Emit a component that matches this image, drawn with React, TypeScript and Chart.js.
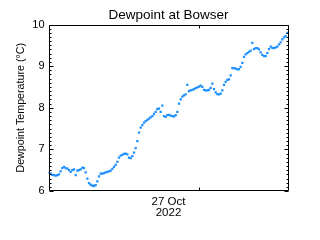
import React, { useEffect, useRef } from "react";
import { Chart, registerables } from "chart.js";

Chart.register(...registerables);

// Time axis: hours relative to 27 Oct 2022 00:00; one reading every 10 minutes from 26 Oct 09:00
const startHour = -15;
const stepHours = 1 / 6;
const xMin = -15.05;
const xMax = 8.95;
const dateTick = 0; // 27 Oct 00:00
const xTitleLines = ["27 Oct", "2022"];

const dewpoint: number[] = [
  6.45, 6.42, 6.39, 6.38, 6.37, 6.38, 6.40, 6.47, 6.55, 6.58,
  6.55, 6.54, 6.50, 6.46, 6.50, 6.52, 6.38, 6.49, 6.50, 6.52,
  6.56, 6.55, 6.45, 6.30, 6.19, 6.15, 6.13, 6.12, 6.14, 6.23,
  6.35, 6.42, 6.42, 6.43, 6.45, 6.46, 6.47, 6.49, 6.53, 6.58,
  6.63, 6.70, 6.80, 6.85, 6.87, 6.89, 6.90, 6.88, 6.80, 6.79,
  6.84, 6.92, 7.03, 7.20, 7.40, 7.52, 7.58, 7.64, 7.68, 7.71,
  7.74, 7.77, 7.80, 7.85, 7.90, 7.97, 7.98, 7.90, 8.05, 7.80,
  7.78, 7.82, 7.83, 7.81, 7.80, 7.79, 7.82, 7.90, 8.10, 8.20,
  8.27, 8.30, 8.32, 8.55, 8.40, 8.42, 8.43, 8.45, 8.47, 8.49,
  8.51, 8.53, 8.50, 8.43, 8.42, 8.42, 8.43, 8.48, 8.58, 8.45,
  8.37, 8.33, 8.32, 8.34, 8.42, 8.55, 8.62, 8.67, 8.68, 8.78,
  8.95, 8.95, 8.94, 8.92, 8.93, 8.98, 9.08, 9.22, 9.28, 9.31,
  9.34, 9.37, 9.56, 9.41, 9.43, 9.43, 9.40, 9.33, 9.27, 9.24,
  9.24, 9.31, 9.41, 9.47, 9.44, 9.43, 9.45, 9.47, 9.52, 9.57,
  9.64, 9.69, 9.72, 9.80,
];

const yMin = 6;
const yMax = 10;
const yMajorStep = 1;
const yMinorStep = 0.1;

const FONT = "'Liberation Sans', Arial, sans-serif";

const frameTicks = {
  id: "frameTicks",
  afterDraw(chart: any) {
    const ctx = chart.ctx;
    const xs = chart.scales.x;
    const ys = chart.scales.y;
    const L = Math.round(xs.getPixelForValue(xMin)) + 0.5;
    const R = Math.round(xs.getPixelForValue(xMax)) - 0.5;
    const T = Math.round(ys.getPixelForValue(yMax)) + 0.5;
    const B = Math.round(ys.getPixelForValue(yMin)) - 0.5;
    ctx.save();
    ctx.strokeStyle = "#000000";
    ctx.lineWidth = 1;
    ctx.beginPath();
    ctx.moveTo(L, T);
    ctx.lineTo(R, T);
    ctx.lineTo(R, B);
    ctx.lineTo(L, B);
    ctx.closePath();
    const nMinor = Math.round((yMax - yMin) / yMinorStep);
    for (let i = 0; i <= nMinor; i++) {
      const v = yMin + i * yMinorStep;
      const major = Math.abs(v / yMajorStep - Math.round(v / yMajorStep)) < 1e-6;
      const len = major ? 4 : 2;
      const py = Math.round(ys.getPixelForValue(v)) + 0.5;
      ctx.moveTo(L, py);
      ctx.lineTo(L + len, py);
      ctx.moveTo(R, py);
      ctx.lineTo(R - len, py);
    }
    const px = Math.round(xs.getPixelForValue(dateTick)) + 0.5;
    ctx.moveTo(px, B);
    ctx.lineTo(px, B - 3);
    ctx.moveTo(px, T);
    ctx.lineTo(px, T + 3);
    ctx.stroke();
    ctx.restore();
  },
};

export default function App() {
  const ref = useRef<HTMLCanvasElement | null>(null);
  useEffect(() => {
    if (!ref.current) return;
    const points = dewpoint.map((v, i) => ({ x: startHour + i * stepHours, y: v }));
    const chart = new Chart(ref.current, {
      type: "scatter",
      data: {
        datasets: [
          {
            data: points,
            backgroundColor: "#1E90FF",
            borderColor: "#1E90FF",
            borderWidth: 0,
            pointStyle: "rect",
            pointRadius: 1.6,
            pointHoverRadius: 1.6,
          },
        ],
      },
      options: {
        responsive: false,
        animation: false,
        events: [],
        layout: { padding: { left: 0, right: 31.5, top: 0, bottom: 0 } },
        plugins: {
          legend: { display: false },
          tooltip: { enabled: false },
          title: {
            display: true,
            text: "Dewpoint at Bowser",
            color: "#000",
            fullSize: false,
            font: { family: FONT, size: 13.5, weight: "normal", lineHeight: 1.2 },
            padding: { top: 6.9, bottom: 1.4 },
          },
        },
        scales: {
          x: {
            type: "linear",
            min: xMin,
            max: xMax,
            grid: { display: false },
            border: { display: false },
            ticks: { display: false },
            title: {
              display: true,
              text: xTitleLines,
              color: "#000",
              font: { family: FONT, size: 11.5, lineHeight: 1.0 },
              padding: { top: 0, bottom: 21 },
            },
            afterFit(scale: any) {
              scale.height = 49;
            },
          },
          y: {
            type: "linear",
            min: yMin,
            max: yMax,
            grid: { display: false, drawTicks: false },
            border: { display: false },
            ticks: {
              stepSize: yMajorStep,
              color: "#000",
              padding: 4,
              font: { family: FONT, size: 11 },
            },
            title: {
              display: true,
              text: "Dewpoint Temperature (°C)",
              color: "#000",
              font: { family: FONT, size: 10.7, lineHeight: 1.2 },
              padding: { top: 14.6, bottom: 0 },
            },
            afterFit(scale: any) {
              scale.width = 48.5;
            },
          },
        },
      },
      plugins: [frameTicks],
    });
    return () => chart.destroy();
  }, []);
  return (
    <div style={{ position: "fixed", left: 0, top: 0, width: 320, height: 240, background: "#fff" }}>
      <canvas ref={ref} width={320} height={240} style={{ display: "block", width: 320, height: 240 }} />
    </div>
  );
}
